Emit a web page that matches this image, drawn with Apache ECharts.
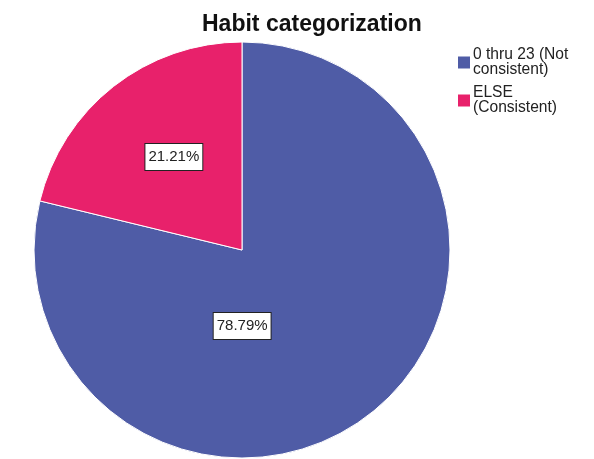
<!DOCTYPE html>
<html>
<head>
<meta charset="utf-8">
<script src="https://cdn.jsdelivr.net/npm/echarts@6/dist/echarts.min.js"></script>
<style>
  html, body { margin: 0; padding: 0; background: #fff; }
  #chart { width: 594px; height: 459px; }
</style>
</head>
<body>
<div id="chart"></div>
<script>
// data
const categories = ["0 thru 23 (Not\nconsistent)", "ELSE\n(Consistent)"];
const percents = [78.79, 21.21];
const sliceColors = ["#4f5ca6", "#e8216b"];

const myChart = echarts.init(document.getElementById("chart"));

// SPSS-style label spots, nudged off the default mid-radius point
const labelNudge = [
  { dx: -66, dy: -8 },
  { dx: -2, dy: -9 },
];

const option = {
  animation: false,
  title: {
    text: "Habit categorization",
    left: 197,
    top: 8,
    textStyle: {
      fontFamily: "Liberation Sans",
      fontSize: 23,
      fontWeight: "bold",
      color: "#111",
    },
  },
  legend: {
    orient: "vertical",
    left: 453,
    top: 42,
    icon: "rect",
    itemWidth: 12,
    itemHeight: 12,
    itemGap: 7,
    data: categories,
    itemStyle: { borderWidth: 0 },
    textStyle: {
      fontFamily: "Liberation Sans",
      fontSize: 15.6,
      lineHeight: 15,
      color: "#222",
      padding: [0, 0, 0, -2],
    },
  },
  series: [
    {
      type: "pie",
      center: [242, 250],
      radius: 208,
      startAngle: 90,
      clockwise: true,
      data: categories.map((name, i) => ({
        name: name,
        value: percents[i],
        itemStyle: { color: sliceColors[i] },
      })),
      itemStyle: {
        borderColor: "#fff",
        borderWidth: 1,
      },
      label: {
        show: true,
        position: "inside",
        formatter: (p) => p.value.toFixed(2) + "%",
        fontFamily: "Liberation Sans",
        fontSize: 15,
        color: "#222",
        backgroundColor: "#fff",
        borderColor: "#222",
        borderWidth: 1,
        padding: [6, 3, 5, 3],
      },
      labelLine: { show: false },
      labelLayout: (params) => labelNudge[params.dataIndex],
      emphasis: { disabled: true },
    },
  ],
};

myChart.setOption(option);
</script>
</body>
</html>
